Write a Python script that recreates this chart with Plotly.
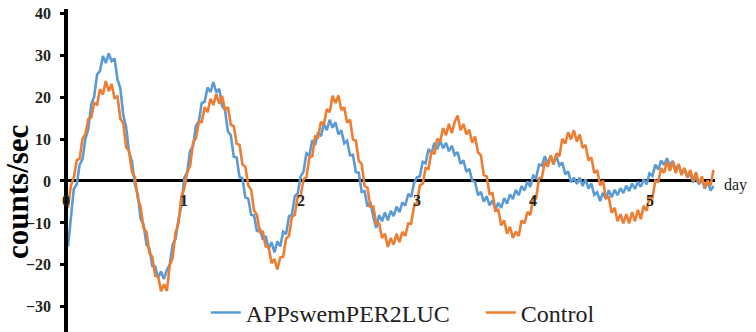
import plotly.graph_objects as go

# sampling: every 0.025 day starting at day 0
t_start = 0.0
t_step = 0.025

app_values = [
    -15.6, -8.4, -1.9, -0.8, 3.9, 5.2, 10.1, 12.4,
    18.3, 20.1, 25.4, 26.2, 29.8, 28.1, 30.4, 28.6,
    29.2, 24.3, 22.1, 15.8, 12.9, 6.8, 4.7, -0.9,
    -3.2, -9.1, -10.4, -15.2, -16.1, -20.3, -20.4, -23.1,
    -21.6, -23.4, -21.2, -19.9, -15.1, -13.8, -9.2, -5.9,
    0.8, 2.1, 7.2, 8.3, 13.1, 14.2, 18.6, 18.9,
    22.3, 21.2, 23.6, 21.1, 22.0, 17.9, 16.9, 11.8,
    10.9, 5.8, 5.6, 0.9, 0.7, -3.9, -4.2, -8.1,
    -8.2, -12.1, -11.3, -14.0, -13.1, -16.2, -14.6, -17.0,
    -14.4, -15.6, -12.1, -12.7, -8.4, -8.1, -3.6, -3.0,
    1.1, 2.2, 6.6, 6.1, 9.7, 8.6, 11.6, 10.7,
    13.6, 12.1, 14.6, 12.7, 14.0, 11.1, 12.1, 9.0,
    9.6, 6.1, 6.2, 2.1, 2.0, -2.6, -2.4, -6.1,
    -5.0, -8.6, -11.2, -8.1, -9.6, -7.5, -9.4, -7.1,
    -8.4, -6.1, -7.4, -5.1, -5.9, -3.1, -3.8, -0.6,
    0.9, 1.1, 4.6, 4.2, 7.6, 6.6, 9.1, 7.6,
    9.6, 7.8, 9.1, 7.1, 8.4, 6.2, 6.9, 4.1,
    4.9, 2.2, 2.9, 0.1, -0.2, -3.4, -2.6, -4.9,
    -3.7, -5.8, -4.6, -6.9, -5.2, -6.4, -4.1, -5.4,
    -3.2, -4.3, -2.1, -3.4, -1.2, -2.3, -0.1, -1.4,
    1.3, 0.7, 3.9, 3.7, 5.9, 4.2, 5.9, 4.3,
    5.8, 3.7, 4.4, 1.6, 2.3, -0.3, 0.8, -0.7,
    0.8, -1.2, 0.4, -1.8, -0.6, -3.3, -2.7, -4.8,
    -2.8, -4.3, -2.2, -3.9, -2.1, -3.4, -1.7, -2.9,
    -1.1, -2.4, -0.6, -1.9, -0.2, -1.4, 0.4, -0.8,
    1.8, 1.2, 3.9, 2.7, 4.9, 3.8, 5.4, 3.7,
    4.8, 2.7, 3.9, 1.7, 2.9, 0.8, 1.9, -0.3,
    0.9, -0.8, 0.4, -1.8, -0.1, -2.3, -1.2,
]

control_values = [
    -6.4, -1.1, 0.8, 4.9, 5.3, 10.1, 11.2, 14.8,
    15.1, 18.6, 18.2, 21.9, 20.6, 23.8, 21.4, 23.1,
    19.8, 20.2, 14.9, 13.8, 8.1, 7.1, 2.2, 0.9,
    -4.1, -6.2, -11.3, -12.1, -17.2, -18.1, -22.6, -22.8,
    -26.3, -24.6, -26.2, -20.1, -18.3, -12.2, -10.1, -3.6,
    -1.9, 2.1, 3.6, 9.1, 10.2, 14.1, 14.1, 17.6,
    16.4, 19.6, 18.1, 20.8, 18.4, 20.3, 16.9, 17.6,
    13.4, 13.1, 8.9, 8.6, 3.9, 3.4, -1.1, -2.1,
    -7.1, -8.1, -12.2, -12.1, -15.6, -15.7, -19.6, -18.6,
    -21.1, -18.2, -18.1, -13.7, -13.1, -8.6, -8.1, -3.7,
    -3.6, 0.4, 0.9, 5.6, 5.9, 10.6, 10.4, 14.1,
    13.4, 17.1, 16.4, 20.3, 18.6, 20.4, 16.9, 17.6,
    13.9, 14.6, 9.9, 9.6, 4.8, 4.1, -1.2, -1.6,
    -6.1, -6.1, -10.2, -10.1, -13.6, -12.6, -15.7, -13.6,
    -15.2, -12.6, -14.6, -12.1, -13.1, -10.1, -10.2, -6.1,
    -5.1, -1.1, -0.6, 3.1, 2.9, 7.1, 6.4, 10.1,
    9.4, 12.6, 10.9, 13.6, 11.4, 14.1, 15.6, 12.1,
    13.6, 11.1, 12.2, 9.1, 10.6, 6.9, 6.1, 1.4,
    1.1, -3.1, -2.9, -7.1, -6.9, -10.6, -9.4, -12.6,
    -10.9, -13.6, -12.1, -13.1, -9.4, -10.1, -7.4, -8.1,
    -3.9, -4.1, 0.6, 0.9, 4.6, 3.4, 6.1, 3.9,
    6.6, 5.9, 10.1, 8.9, 11.6, 9.9, 12.1, 9.4,
    11.1, 7.9, 8.6, 4.9, 5.6, 1.9, 2.6, -1.1,
    0.1, -4.1, -3.9, -7.6, -6.4, -9.6, -7.9, -10.1,
    -7.9, -10.1, -7.4, -9.6, -6.9, -9.1, -5.9, -7.1,
    -3.9, -4.1, 0.1, -0.1, 3.1, 1.9, 4.6, 2.4,
    4.6, 1.9, 4.1, 1.4, 3.1, 0.9, 2.6, -0.1,
    2.1, -0.6, 1.1, -1.6, 0.1, -1.1, 2.6,
]

series_names = ["APPswemPER2LUC", "Control"]
series_colors = ["#5B9BD5", "#ED7D31"]
x_tick_vals = [0, 1, 2, 3, 4, 5]
y_tick_vals = [40, 30, 20, 10, 0, -10, -20, -30]
y_title = "counts/sec"
x_title = "day"

days = [round(t_start + i * t_step, 3) for i in range(len(app_values))]

fig = go.Figure()
for name, vals, col in zip(series_names, [app_values, control_values], series_colors):
    fig.add_trace(go.Scatter(x=days, y=vals, mode="lines", name=name,
                             line=dict(color=col, width=2.6)))

serif = "Liberation Serif"

fig.update_layout(
    width=756, height=332,
    margin=dict(l=68, r=41, t=9, b=0, autoexpand=False),
    plot_bgcolor="white", paper_bgcolor="white",
    showlegend=True,
    legend=dict(orientation="h", x=0.213, y=0.059, xanchor="left", yanchor="middle",
                font=dict(family=serif, size=24, color="#222"),
                bgcolor="rgba(0,0,0,0)", entrywidth=230, entrywidthmode="pixels"),
    xaxis=dict(visible=False, range=[0, 5.563]),
    yaxis=dict(range=[-36, 41], tickvals=y_tick_vals, showgrid=False,
               showline=True, linecolor="black", linewidth=3.5,
               ticks="outside", ticklen=4, tickwidth=2.5, tickcolor="black",
               ticklabelstandoff=6,
               tickfont=dict(family=serif, size=16, color="#222", weight="bold"),
               zeroline=True, zerolinecolor="black", zerolinewidth=3),
)

for v in x_tick_vals:
    fig.add_annotation(x=v, y=0, xref="x", yref="y", text=str(v), showarrow=False,
                       xanchor="center", yanchor="middle",
                       yshift=-20, xshift=-2 if v == 0 else 0,
                       font=dict(family=serif, size=16, color="#222", weight="bold"))

fig.add_annotation(x=(735 - 68) / 647, y=-1, xref="paper", yref="y", text=x_title,
                   showarrow=False, xanchor="center", yanchor="middle",
                   font=dict(family=serif, size=16, color="#222"))

fig.add_annotation(x=0, y=(332 - 192) / 323, xref="paper", yref="paper", text=y_title,
                   showarrow=False, xshift=-51, textangle=-90,
                   xanchor="center", yanchor="middle",
                   font=dict(family=serif, size=31, color="black", weight="bold"))

fig.write_html("out.html", config={"displayModeBar": False},
               post_script="document.body.style.margin='0';")
